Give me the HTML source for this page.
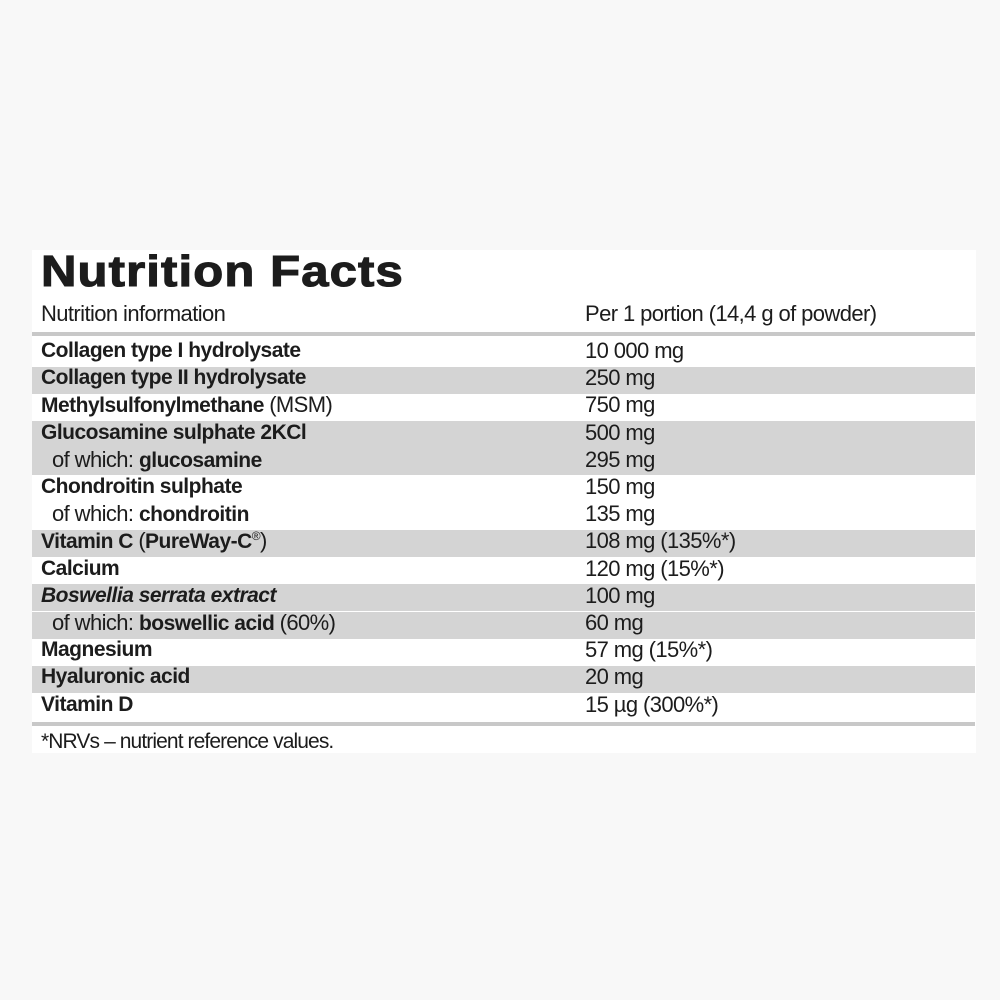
<!DOCTYPE html>
<html>
<head>
<meta charset="utf-8">
<style>
  html,body{margin:0;padding:0;}
  body{width:1000px;height:1000px;background:#f8f8f8;position:relative;overflow:hidden;
       font-family:"Liberation Sans",Arial,sans-serif;color:#1c1c1c;}
  .panel{position:absolute;left:32px;top:250px;width:944px;height:503px;background:#fff;}
  .title{position:absolute;left:41px;top:250px;font-size:44px;line-height:44px;font-weight:bold;
         letter-spacing:1px;transform:scaleX(1.115);transform-origin:0 0;
         -webkit-text-stroke:1.1px #1c1c1c;white-space:nowrap;color:#1c1c1c;}
  .line{position:absolute;left:32px;width:943px;background:#c8c8c8;}
  .row{position:absolute;left:32px;width:943px;height:27.2px;}
  .row.s{background:#d4d4d4;}
  .n,.v{position:absolute;top:-2.6px;line-height:27.2px;white-space:nowrap;}
  .n{left:9px;font-size:21px;font-weight:bold;letter-spacing:-0.5px;}
  .n.ind{left:20px;}
  .v{left:553px;font-size:22px;letter-spacing:-0.6px;}
  .r{font-weight:normal;font-size:22px;letter-spacing:-0.6px;}
  .b{font-weight:bold;font-size:21px;letter-spacing:-0.5px;}
  .hdr{position:absolute;top:300px;font-size:22px;line-height:27.2px;letter-spacing:-0.6px;white-space:nowrap;}
  .foot{position:absolute;left:41px;top:728px;font-size:21px;line-height:27.2px;letter-spacing:-0.9px;white-space:nowrap;}
  sup{font-size:12px;vertical-align:0;position:relative;top:-8px;}
</style>
</head>
<body>
<div class="panel"></div>
<div class="title">Nutrition Facts</div>

<div class="hdr" style="left:41px;">Nutrition information</div>
<div class="hdr" style="left:585px;">Per 1 portion (14,4 g of powder)</div>
<div class="line" style="top:332px;height:3.5px;"></div>

<div class="row" style="top:339.5px;"><div class="n">Collagen type I hydrolysate</div><div class="v">10 000 mg</div></div>
<div class="row s" style="top:366.7px;"><div class="n">Collagen type II hydrolysate</div><div class="v">250 mg</div></div>
<div class="row" style="top:393.9px;"><div class="n">Methylsulfonylmethane <span class="r">(MSM)</span></div><div class="v">750 mg</div></div>
<div class="row s" style="top:421.1px;"><div class="n">Glucosamine sulphate 2KCl</div><div class="v">500 mg</div></div>
<div class="row s" style="top:448.3px;"><div class="n ind"><span class="r">of which: </span>glucosamine</div><div class="v">295 mg</div></div>
<div class="row" style="top:475.5px;"><div class="n">Chondroitin sulphate</div><div class="v">150 mg</div></div>
<div class="row" style="top:502.7px;"><div class="n ind"><span class="r">of which: </span>chondroitin</div><div class="v">135 mg</div></div>
<div class="row s" style="top:529.9px;"><div class="n">Vitamin C <span class="r">(</span>PureWay-C<sup class="r" style="font-size:12px">®</sup><span class="r">)</span></div><div class="v">108 mg (135%*)</div></div>
<div class="row" style="top:557.1px;"><div class="n">Calcium</div><div class="v">120 mg (15%*)</div></div>
<div class="row s" style="top:584.3px;"><div class="n" style="font-style:italic;">Boswellia serrata extract</div><div class="v">100 mg</div></div>
<div class="row s" style="top:611.5px;"><div class="n ind"><span class="r">of which: </span>boswellic acid <span class="r">(60%)</span></div><div class="v">60 mg</div></div>
<div class="row" style="top:638.7px;"><div class="n">Magnesium</div><div class="v">57 mg (15%*)</div></div>
<div class="row s" style="top:665.9px;"><div class="n">Hyaluronic acid</div><div class="v">20 mg</div></div>
<div class="row" style="top:693.1px;"><div class="n">Vitamin D</div><div class="v">15 µg (300%*)</div></div>

<div class="line" style="top:722px;height:4px;"></div>
<div class="foot">*NRVs – nutrient reference values.</div>
</body>
</html>
